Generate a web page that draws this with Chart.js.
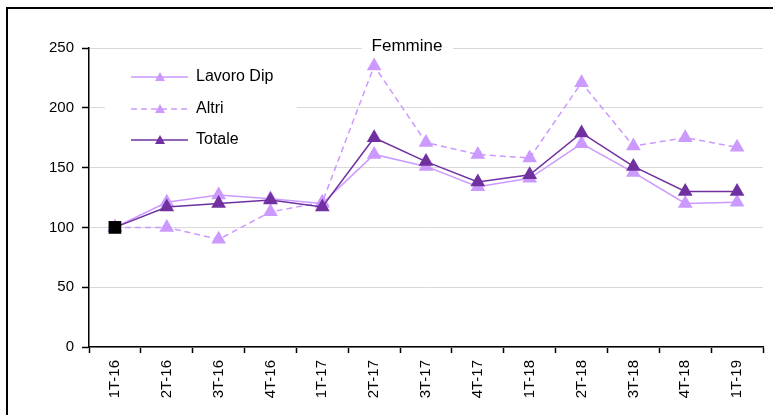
<!DOCTYPE html>
<html>
<head>
<meta charset="utf-8">
<script src="https://cdn.jsdelivr.net/npm/chart.js@4.4.1/dist/chart.umd.min.js"></script>
<style>
    body { margin: 0; overflow: hidden; background: #fff; }
    #frame { position: absolute; left: 6px; top: 7px; width: 900px; height: 600px; border: 2px solid #000; }
    #wrap { position: absolute; left: 0; top: 0; width: 773px; height: 415px; }
</style>
</head>
<body>
<div id="frame"></div>
<div id="wrap"><canvas id="chart" width="773" height="415"></canvas></div>
<script>
const quarters = ['1T-16', '2T-16', '3T-16', '4T-16', '1T-17', '2T-17', '3T-17', '4T-17', '1T-18', '2T-18', '3T-18', '4T-18', '1T-19'];
const lavoroDip = [100, 121, 127, 124, 120, 161, 151, 134, 141, 170, 146, 120, 121];
const altri = [100, 100, 90, 113, 121, 235, 171, 161, 158, 221, 168, 175, 167];
const totale = [100, 117, 120, 123, 117, 175, 155, 138, 144, 179, 151, 130, 130];
const yTicks = [0, 50, 100, 150, 200, 250];

const LIGHT = '#cc99ff';
const DARK = '#7030a0';
const FONT = 'Liberation Sans, Arial, sans-serif';

// first point of the total is the base (black square)
const totStyle = totale.map((v, i) => i === 0 ? 'rect' : 'triangle');
const totColor = totale.map((v, i) => i === 0 ? '#000' : DARK);
const totRadius = totale.map((v, i) => i === 0 ? 9 : 8.5);

// legend box and title drawn inside the plot, over the gridlines
const innerLegend = {
    id: 'innerLegend',
    beforeDatasetsDraw(chart) {
        const ctx = chart.ctx;
        ctx.save();
        ctx.fillStyle = '#fff';
        ctx.fillRect(105, 60, 192, 95);
        ctx.fillRect(362, 38, 91, 18);

        ctx.fillStyle = '#000';
        ctx.font = '17px ' + FONT;
        ctx.textAlign = 'center';
        ctx.textBaseline = 'middle';
        ctx.fillText('Femmine', 407, 46);

        const rows = [77, 109, 140];
        chart.data.datasets.forEach((ds, k) => {
            const y = rows[k];
            ctx.strokeStyle = ds.borderColor;
            ctx.lineWidth = 1.5;
            ctx.setLineDash(ds.borderDash || []);
            ctx.beginPath();
            ctx.moveTo(131, y);
            ctx.lineTo(188, y);
            ctx.stroke();
            ctx.setLineDash([]);
            ctx.fillStyle = ds.borderColor;
            ctx.beginPath();
            ctx.moveTo(160, y - 5);
            ctx.lineTo(165, y + 4);
            ctx.lineTo(155, y + 4);
            ctx.closePath();
            ctx.fill();
            ctx.fillStyle = '#000';
            ctx.font = '16px ' + FONT;
            ctx.textAlign = 'left';
            ctx.fillText(ds.label, 196, y);
        });
        ctx.restore();
    }
};

new Chart(document.getElementById('chart'), {
    type: 'line',
    data: {
        labels: quarters,
        datasets: [
            {
                label: 'Lavoro Dip',
                data: lavoroDip,
                borderColor: LIGHT,
                backgroundColor: LIGHT,
                borderWidth: 1.5,
                pointStyle: 'triangle',
                pointRadius: 8.5,
                pointBorderWidth: 0,
                order: 2
            },
            {
                label: 'Altri',
                data: altri,
                borderColor: LIGHT,
                backgroundColor: LIGHT,
                borderWidth: 1.5,
                borderDash: [6, 4],
                pointStyle: 'triangle',
                pointRadius: 8.5,
                pointBorderWidth: 0,
                order: 3
            },
            {
                label: 'Totale',
                data: totale,
                borderColor: DARK,
                backgroundColor: totColor,
                borderWidth: 1.5,
                pointStyle: totStyle,
                pointRadius: totRadius,
                pointBorderWidth: 0,
                order: 1
            }
        ]
    },
    plugins: [innerLegend],
    options: {
        responsive: false,
        animation: false,
        layout: { padding: { left: 0, right: 10, top: 48, bottom: 0 } },
        plugins: {
            legend: { display: false },
            tooltip: { enabled: false }
        },
        scales: {
            x: {
                offset: true,
                grid: { offset: true, drawOnChartArea: false, tickLength: 6, tickColor: '#000', tickWidth: 1.5 },
                border: { color: '#000', width: 1.5 },
                ticks: { color: '#000', font: { family: FONT, size: 15 }, minRotation: 90, maxRotation: 90, padding: 7 },
                afterFit(scale) { scale.height = 68; }
            },
            y: {
                min: 0,
                max: 250,
                afterBuildTicks(scale) { scale.ticks = yTicks.map(v => ({ value: v })); },
                grid: { color: '#d9d9d9', lineWidth: 1, tickLength: 7, tickColor: '#000', tickWidth: 1.5 },
                border: { color: '#000', width: 1.5 },
                ticks: { color: '#000', font: { family: FONT, size: 15 }, padding: 8 },
                afterFit(scale) { scale.width = 89; }
            }
        }
    }
});
</script>
</body>
</html>
